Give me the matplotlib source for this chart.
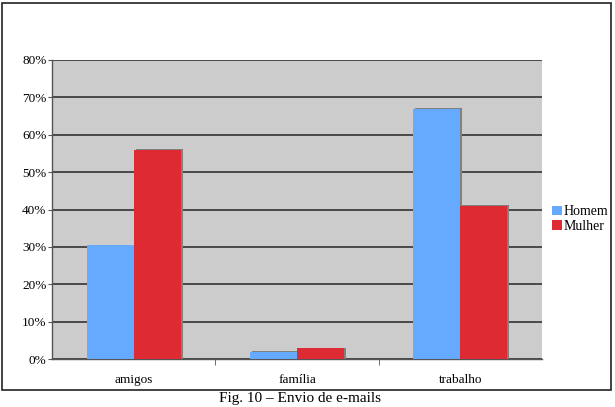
import matplotlib
matplotlib.use("Agg")
import matplotlib.pyplot as plt
import matplotlib.transforms as mtransforms
from matplotlib.patches import Rectangle
import numpy as np

categories = ["amigos", "família", "trabalho"]
homem = [30.5, 2.0, 67.0]
mulher = [56.0, 2.9, 41.0]
yticks = [0, 10, 20, 30, 40, 50, 60, 70, 80]
ytick_labels = ["0%", "10%", "20%", "30%", "40%", "50%", "60%", "70%", "80%"]
series_names = ["Homem", "Mulher"]
caption = "Fig. 10 – Envio de e-mails"

plt.rcParams['font.family'] = ['Liberation Serif', 'DejaVu Serif']

W, H = 615, 407
fig = plt.figure(figsize=(W / 100, H / 100), dpi=100)
fig.patch.set_facecolor("white")

# outer frame
fig.patches.append(Rectangle((2 / W, 1 - 390 / H), 609 / W, 387 / H, transform=fig.transFigure,
                             fill=False, edgecolor="#222222", linewidth=1.2))

ax = fig.add_axes([52 / W, (H - 359) / H, (542 - 52) / W, (359 - 60) / H])
ax.set_facecolor("#cccccc")

x = np.arange(len(categories))
bw = 0.288
blue = "#66aaff"
red = "#dd2a33"

shadow = ax.transData + mtransforms.ScaledTranslation(2 / 100, 0.5 / 100, fig.dpi_scale_trans)
for vals, off in [(homem, -bw / 2), (mulher, bw / 2)]:
    ax.bar(x + off, vals, bw, color="#808080", transform=shadow, zorder=2, linewidth=0)
ax.bar(x - bw / 2, homem, bw, color=blue, zorder=3, linewidth=0, label=series_names[0])
ax.bar(x + bw / 2, mulher, bw, color=red, zorder=3, linewidth=0, label=series_names[1])

ax.set_xlim(-0.5, 2.5)
ax.set_ylim(0, 80)
ax.set_yticks(yticks)
ax.set_yticklabels(ytick_labels, fontsize=9.5)
ax.yaxis.grid(True, color="#333333", linewidth=1.2, zorder=1)
ax.set_axisbelow(True)
ax.set_xticks(x)
ax.set_xticklabels(categories, fontsize=9.5)
ax.tick_params(axis="x", length=0, pad=11)
ax.set_xticks([0.5, 1.5], minor=True)
ax.tick_params(axis="x", which="minor", length=4, color="#555555")
ax.tick_params(axis="y", length=3, pad=1, color="#555555")
for s in ["top", "right"]:
    ax.spines[s].set_visible(False)
for s in ["left", "bottom"]:
    ax.spines[s].set_color("#555555")
    ax.spines[s].set_linewidth(1.0)

leg = fig.legend(loc="center left", bbox_to_anchor=(552 / W, 1 - 219 / H), frameon=False,
                 fontsize=10, handlelength=0.7, handleheight=0.7, handletextpad=0.15,
                 labelspacing=0.1, borderpad=0, borderaxespad=0)

fig.text(300 / W, 1 - 398.5 / H, caption, ha="center", va="center", fontsize=11)

fig.savefig("out.png", dpi=100)
